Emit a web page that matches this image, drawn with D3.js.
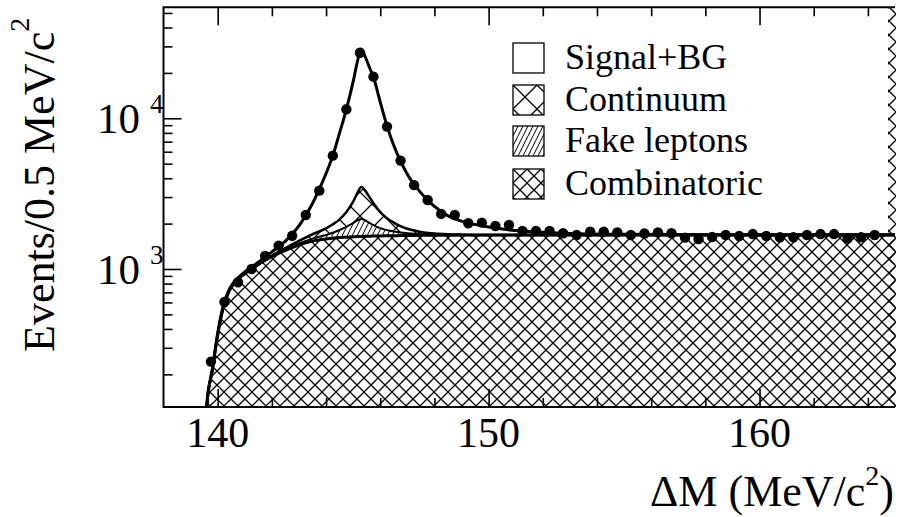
<!DOCTYPE html>
<html>
<head>
<meta charset="utf-8">
<script src="https://cdn.jsdelivr.net/npm/d3@7"></script>
<style>
  body { margin: 0; background: #fff; }
  svg { display: block; font-family: "Liberation Serif", "Times New Roman", serif; }
</style>
</head>
<body>
<div class="chart"></div>
<script>
// data
// =======================
var dmBins = [139.75, 140.25, 140.75, 141.25, 141.75, 142.25, 142.75, 143.25, 143.75, 144.25,
  144.75, 145.25, 145.75, 146.25, 146.75, 147.25, 147.75, 148.25, 148.75, 149.25,
  149.75, 150.25, 150.75, 151.25, 151.75, 152.25, 152.75, 153.25, 153.75, 154.25,
  154.75, 155.25, 155.75, 156.25, 156.75, 157.25, 157.75, 158.25, 158.75, 159.25,
  159.75, 160.25, 160.75, 161.25, 161.75, 162.25, 162.75, 163.25, 163.75, 164.25];
var counts = [243, 604, 816, 1000, 1220, 1430, 1660, 2280, 3310, 5650,
  11470, 27200, 18880, 8800, 5240, 3600, 2870, 2320, 2280, 2010,
  2030, 1930, 1960, 1790, 1790, 1790, 1725, 1680, 1770, 1770,
  1750, 1680, 1720, 1750, 1725, 1614, 1580, 1630, 1680, 1655,
  1705, 1655, 1623, 1623, 1680, 1705, 1705, 1600, 1623, 1680];

// fit curves, sampled at fitX
var fitX = [139.57, 139.6, 139.8, 140.0, 140.2, 140.4, 140.6, 140.8, 141.0, 141.5,
  142.0, 142.5, 143.0, 143.5, 144.0, 144.25, 144.5, 144.75, 145.0, 145.15,
  145.3, 145.45, 145.6, 145.75, 146.0, 146.25, 146.5, 146.75, 147.0, 147.5,
  148.0, 148.5, 149.0, 150.0, 151.0, 152.0, 153.0, 155.0, 158.0, 160.0, 165.0];
var combinatoric = [105, 125, 212, 365, 550, 700, 800, 870, 930, 1070,
  1210, 1330, 1440, 1530, 1580, 1600, 1615, 1625, 1635, 1640,
  1645, 1648, 1650, 1653, 1656, 1660, 1663, 1666, 1668, 1672,
  1675, 1677, 1678, 1680, 1680, 1680, 1680, 1680, 1680, 1680, 1680];
var fakeLeptons = [0, 0, 0, 0, 0, 0, 0, 0, 0, 0,
  5, 15, 35, 60, 100, 140, 200, 280, 380, 460,
  500, 450, 370, 300, 210, 150, 110, 80, 60, 30,
  15, 8, 4, 0, 0, 0, 0, 0, 0, 0, 0];
var continuum = [0, 0, 0, 0, 0, 0, 0, 0, 0, 0,
  10, 30, 60, 110, 180, 240, 320, 480, 780, 1080,
  1350, 1200, 980, 780, 520, 360, 260, 180, 120, 60,
  30, 15, 8, 0, 0, 0, 0, 0, 0, 0, 0];
var signalPlusBG = [105, 125, 215, 375, 565, 715, 820, 890, 955, 1110,
  1300, 1530, 1930, 2720, 4300, 5650, 8000, 11470, 17500, 23500,
  28800, 25500, 21800, 18700, 12800, 8900, 6600, 5200, 4250, 3200,
  2600, 2250, 2080, 1900, 1800, 1750, 1720, 1700, 1690, 1690, 1690];

var legendLabels = ["Signal+BG", "Continuum", "Fake leptons", "Combinatoric"];
var xTickLabels = ["140", "150", "160"];
var xMajor = [140, 150, 160];
var xMinor = [142, 144, 146, 148, 152, 154, 156, 158, 162, 164];
var yMajor = [1000, 10000];
var yMinor = [200, 300, 400, 500, 600, 700, 800, 900,
  2000, 3000, 4000, 5000, 6000, 7000, 8000, 9000, 20000, 30000, 40000, 50000];

// layout
// ======
var svgWidth = 899;
var svgHeight = 517;
var plot = { left: 163.5, right: 895, top: 7.3, bottom: 407 };

var svg = d3.select(".chart")
  .append("svg")
  .attr("width", svgWidth)
  .attr("height", svgHeight);

var defs = svg.append("defs");

function crossHatch(id, size, width) {
  defs.append("pattern")
    .attr("id", id)
    .attr("patternUnits", "userSpaceOnUse")
    .attr("width", size)
    .attr("height", size)
    .append("path")
    .attr("d", `M-1,-1L${size + 1},${size + 1}M${size + 1},-1L-1,${size + 1}`)
    .attr("stroke", "#000")
    .attr("stroke-width", width)
    .attr("fill", "none");
}
crossHatch("combHatch", 14, 1.3);
crossHatch("contHatch", 24, 1.3);

defs.append("pattern")
  .attr("id", "fakeHatch")
  .attr("patternUnits", "userSpaceOnUse")
  .attr("width", 5)
  .attr("height", 10)
  .append("path")
  .attr("d", "M-5,10L0,0M0,10L5,0M5,10L10,0")
  .attr("stroke", "#000")
  .attr("stroke-width", 1)
  .attr("fill", "none");

defs.append("clipPath")
  .attr("id", "plotClip")
  .append("rect")
  .attr("x", plot.left)
  .attr("y", plot.top)
  .attr("width", plot.right - plot.left)
  .attr("height", plot.bottom - plot.top);

// scales
// ======
var xScale = d3.scaleLinear()
  .domain([138, 165])
  .range([plot.left, plot.right]);

var yScale = d3.scaleLog()
  .domain([121.4, 54500])
  .range([plot.bottom, plot.top]);

// stack the background components
// ===============================
var rows = fitX.map(function (x, i) {
  return { x: x, comb: combinatoric[i], fake: fakeLeptons[i], cont: continuum[i] };
});
var stacked = d3.stack().keys(["comb", "fake", "cont"])(rows);

var chartGroup = svg.append("g")
  .attr("clip-path", "url(#plotClip)");

var curve = d3.curveMonotoneX;

var area = d3.area()
  .curve(curve)
  .x(d => xScale(d.data.x))
  .y0(d => d[0] > 0 ? yScale(d[0]) : plot.bottom + 5)
  .y1(d => yScale(d[1]));

var fills = ["url(#combHatch)", "url(#fakeHatch)", "url(#contHatch)"];

chartGroup.selectAll(".bg-area")
  .data(stacked)
  .enter()
  .append("path")
  .attr("class", "bg-area")
  .attr("d", area)
  .attr("fill", (d, i) => fills[i])
  .attr("stroke", "none");

var topLine = d3.line()
  .curve(curve)
  .x(d => xScale(d.data.x))
  .y(d => yScale(d[1]));

var lineWidths = [3, 2, 2.5];
chartGroup.selectAll(".bg-line")
  .data(stacked.slice().reverse())
  .enter()
  .append("path")
  .attr("class", "bg-line")
  .attr("d", topLine)
  .attr("fill", "none")
  .attr("stroke", "#000")
  .attr("stroke-width", (d, i) => lineWidths[2 - i]);

// total fit
chartGroup.append("path")
  .datum(fitX.map((x, i) => [x, signalPlusBG[i]]))
  .attr("d", d3.line()
    .curve(curve)
    .x(d => xScale(d[0]))
    .y(d => yScale(d[1])))
  .attr("fill", "none")
  .attr("stroke", "#000")
  .attr("stroke-width", 3);

// data points
chartGroup.selectAll(".dot")
  .data(dmBins)
  .enter()
  .append("circle")
  .attr("class", "dot")
  .attr("cx", d => xScale(d))
  .attr("cy", (d, i) => yScale(counts[i]))
  .attr("r", 5.2)
  .attr("fill", "#000");

// thin hatched strip at the right edge
svg.append("rect")
  .attr("x", 888)
  .attr("y", plot.top)
  .attr("width", 8)
  .attr("height", plot.bottom - plot.top)
  .attr("fill", "url(#combHatch)");

// axes
// ====
function styleAxis(g) {
  g.select(".domain").remove();
  g.selectAll(".tick line").attr("stroke", "#000").attr("stroke-width", 1.6);
  g.selectAll(".tick text").remove();
}

svg.append("g")
  .attr("transform", `translate(0, ${plot.bottom})`)
  .call(d3.axisBottom(xScale).tickValues(xMajor).tickSizeInner(-18).tickSizeOuter(0))
  .call(styleAxis);
svg.append("g")
  .attr("transform", `translate(0, ${plot.bottom})`)
  .call(d3.axisBottom(xScale).tickValues(xMinor).tickSizeInner(-9).tickSizeOuter(0))
  .call(styleAxis);
svg.append("g")
  .attr("transform", `translate(0, ${plot.top})`)
  .call(d3.axisTop(xScale).tickValues(xMajor).tickSizeInner(-18).tickSizeOuter(0))
  .call(styleAxis);
svg.append("g")
  .attr("transform", `translate(0, ${plot.top})`)
  .call(d3.axisTop(xScale).tickValues(xMinor).tickSizeInner(-9).tickSizeOuter(0))
  .call(styleAxis);
svg.append("g")
  .attr("transform", `translate(${plot.left}, 0)`)
  .call(d3.axisLeft(yScale).tickValues(yMajor).tickSizeInner(-18).tickSizeOuter(0))
  .call(styleAxis);
svg.append("g")
  .attr("transform", `translate(${plot.left}, 0)`)
  .call(d3.axisLeft(yScale).tickValues(yMinor).tickSizeInner(-9).tickSizeOuter(0))
  .call(styleAxis);

// frame (left, top, bottom)
svg.append("path")
  .attr("d", `M${plot.right},${plot.top}H${plot.left}V${plot.bottom}H${plot.right}`)
  .attr("fill", "none")
  .attr("stroke", "#000")
  .attr("stroke-width", 2);

// tick labels
svg.selectAll(".xlabel")
  .data(xMajor)
  .enter()
  .append("text")
  .attr("class", "xlabel")
  .attr("x", d => xScale(d))
  .attr("y", 447)
  .attr("text-anchor", "middle")
  .attr("font-size", 42)
  .text((d, i) => xTickLabels[i]);

var yLabels = svg.selectAll(".ylabel")
  .data(yMajor)
  .enter()
  .append("g")
  .attr("class", "ylabel")
  .attr("transform", d => `translate(0, ${yScale(d)})`);

yLabels.append("text")
  .attr("x", 140)
  .attr("y", 15)
  .attr("text-anchor", "end")
  .attr("font-size", 43)
  .text("10");

yLabels.append("text")
  .attr("x", 150)
  .attr("y", -5)
  .attr("font-size", 27)
  .text(d => Math.round(Math.log10(d)));

// axis titles
// ===========
var yTitle = svg.append("text")
  .attr("transform", "translate(54, 352) rotate(-90)")
  .attr("font-size", 44);
yTitle.append("tspan").text("Events/0.5 MeV/c");
yTitle.append("tspan").attr("dy", -25).attr("font-size", 28).text("2");

var xTitle = svg.append("text")
  .attr("x", 894)
  .attr("y", 506)
  .attr("text-anchor", "end")
  .attr("font-size", 44);
xTitle.append("tspan").text("\u0394M (MeV/c");
xTitle.append("tspan").attr("dy", -21).attr("font-size", 28).text("2");
xTitle.append("tspan").attr("dy", 21).text(")");

// legend
// ======
var legendFills = ["#fff", "url(#contHatch)", "url(#fakeHatch)", "url(#combHatch)"];
var legendTops = [43, 85, 126, 169];

var legend = svg.selectAll(".legend")
  .data(legendLabels)
  .enter()
  .append("g")
  .attr("class", "legend")
  .attr("transform", (d, i) => `translate(513, ${legendTops[i]})`);

legend.append("rect")
  .attr("width", 31)
  .attr("height", 30)
  .attr("fill", (d, i) => legendFills[i])
  .attr("stroke", "#000")
  .attr("stroke-width", 1.3);

legend.append("text")
  .attr("x", 52)
  .attr("y", 26)
  .attr("font-size", 36)
  .text(d => d);
</script>
</body>
</html>
